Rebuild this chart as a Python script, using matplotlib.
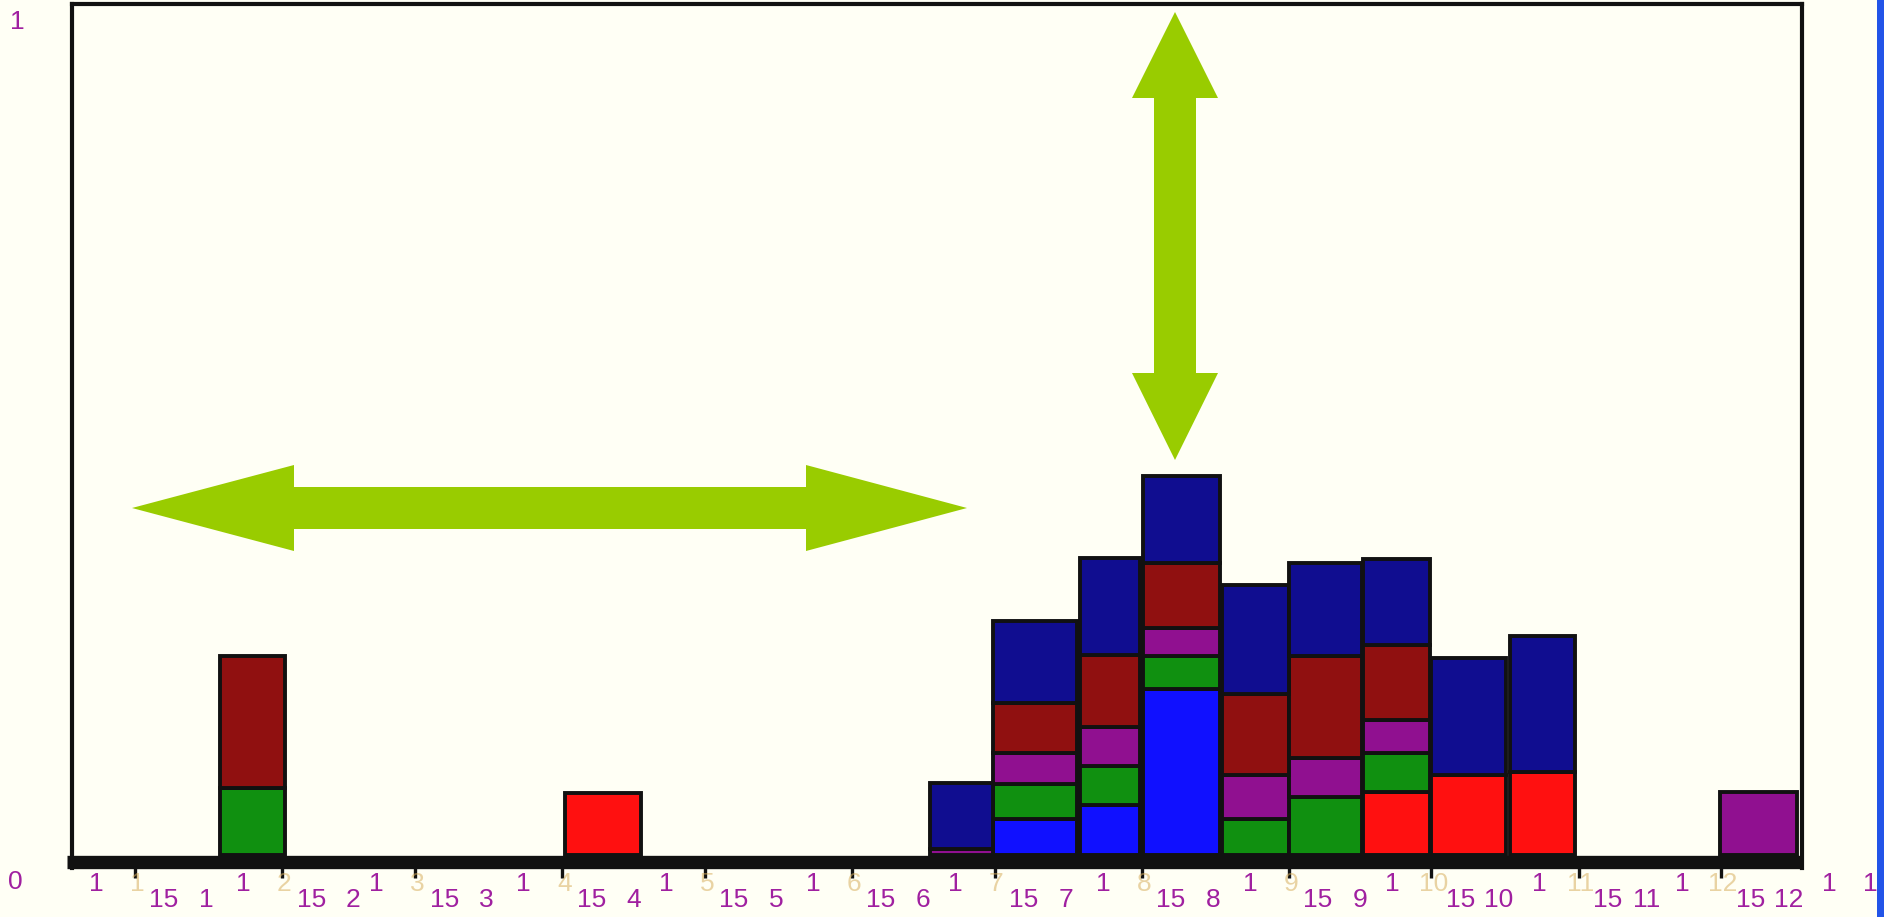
"""
Half-month stacked histogram with two green arrows.
Writes out.png (1884x917).
"""

import matplotlib
matplotlib.use('Agg')
import matplotlib.pyplot as plt
from matplotlib.patches import Polygon, Rectangle
import numpy as np

# ─── Data ────────────────────────────────────────────────────────────────────
# x in days from 1 January; each bar spans one half-month bin
BIN_START = [18.0, 90.5, 167.4, 180.7, 199.0, 212.3, 228.9, 243.0, 258.6, 273.0, 289.5, 333.8]
BIN_END   = [31.6, 106.5, 180.7, 198.4, 211.6, 228.5, 243.0, 258.4, 272.7, 288.7, 303.2, 350.0]

# stacked series, bottom to top (fraction of full axis height)
RED     = [0,     0.073, 0,     0,     0,     0,     0,     0,     0.074, 0.094, 0.098, 0]
BLUE    = [0,     0,     0,     0.042, 0.059, 0.195, 0,     0,     0,     0,     0,     0]
GREEN   = [0.079, 0,     0,     0.042, 0.045, 0.039, 0.042, 0.068, 0.046, 0,     0,     0]
PURPLE  = [0,     0,     0.007, 0.036, 0.046, 0.033, 0.052, 0.046, 0.039, 0,     0,     0.074]
DARKRED = [0.155, 0,     0,     0.059, 0.085, 0.076, 0.095, 0.120, 0.088, 0,     0,     0]
NAVY    = [0,     0,     0.078, 0.096, 0.114, 0.102, 0.128, 0.109, 0.101, 0.137, 0.159, 0]

SERIES = [RED, BLUE, GREEN, PURPLE, DARKRED, NAVY]
COLORS = ["#FF1010", "#1010FF", "#109010", "#901090", "#901010", "#100D90"]

# month starts (days from 1 January) and their labels
MONTH_START = [0, 31, 59, 90, 120, 151, 181, 212, 243, 273, 304, 334, 365]
MONTH_LABEL = ["1", "2", "3", "4", "5", "6", "7", "8", "9", "10", "11", "12", "1"]

Y_LABELS = ["0", "1"]

# ─── Style ───────────────────────────────────────────────────────────────────
W, H = 1884, 917
BG = "#FFFFF5"
INK = "#111111"
LABEL = "#A020A0"
ARROW = "#99CC00"
PX_PER_DAY = 4.749

plt.rcParams.update({
    "font.family": ["Liberation Sans", "DejaVu Sans"],
    "font.size": 19,
})

def fxy(x, y):
    """pixel (from top-left) -> figure fraction"""
    return (x / W, 1 - y / H)

fig = plt.figure(figsize=(W / 100, H / 100), dpi=100, facecolor=BG)
ax_l, ax_r, ax_t, ax_b = 72, 1802, 4, 868
ax = fig.add_axes([ax_l / W, (H - ax_b) / H, (ax_r - ax_l) / W, (ax_b - ax_t) / H])
ax.set_facecolor(BG)

# x limits from the frame edges, y so that 0 sits on the band top
ax.set_xlim((ax_l - 135) / PX_PER_DAY, (ax_r - 135) / PX_PER_DAY)
ax.set_ylim(-13 / 851, 1.0)

# ─── Bars ────────────────────────────────────────────────────────────────────
left = np.array(BIN_START)
width = np.array(BIN_END) - left
bottom = np.zeros(len(left))
for vals, col in zip(SERIES, COLORS):
    vals = np.array(vals)
    m = vals > 0
    ax.bar(left[m], vals[m], width=width[m], bottom=bottom[m], align="edge",
           color=col, edgecolor=INK, linewidth=2.8, zorder=3)
    bottom += vals

# thick axis band at the base
ax.axhline(-6.5 / 851, xmin=-0.003, xmax=1.0, color=INK, lw=9.6,
           clip_on=False, zorder=4, solid_capstyle="butt")

# ─── Frame / ticks ───────────────────────────────────────────────────────────
for s in ["left", "right", "top"]:
    ax.spines[s].set_linewidth(3.0)
    ax.spines[s].set_color(INK)
ax.spines["bottom"].set_visible(False)
ax.set_yticks([])
ax.set_xticks(MONTH_START[:-1])
ax.tick_params(axis="x", direction="out", length=7, width=2.4, color=INK,
               labelbottom=False)

# tick labels: "1 M" on the upper row, "15 M" on the lower row
tr = ax.get_xaxis_transform()
y_up = -(884 - ax_b) / (ax_b - ax_t)
y_lo = -(900 - ax_b) / (ax_b - ax_t)
for d, lab in zip(MONTH_START, MONTH_LABEL):
    ax.text(d - 8.2, y_up, "1", transform=tr, ha="center", va="center",
            color=LABEL, clip_on=False)
    on_tick = d < 350
    ax.text(d + 0.4, y_up, lab, transform=tr, ha="center", va="center",
            color="#D8B060" if on_tick else LABEL, alpha=0.55 if on_tick else 1,
            clip_on=False)
    if d < 350:
        ax.text(d + 6.1, y_lo, "15", transform=tr, ha="center", va="center",
                color=LABEL, clip_on=False)
        ax.text(d + 15.0 - (0.8 if len(lab) > 1 else 0), y_lo, lab, transform=tr,
                ha="center", va="center", color=LABEL, clip_on=False)

# y labels sit just outside the frame
fig.text(*fxy(15, 882), Y_LABELS[0], ha="center", va="center", color=LABEL)
fig.text(*fxy(17, 22), Y_LABELS[1], ha="center", va="center", color=LABEL)

# ─── Arrows ──────────────────────────────────────────────────────────────────
h_arrow = [(132, 508), (294, 465), (294, 487), (806, 487), (806, 465), (967, 508),
           (806, 551), (806, 529), (294, 529), (294, 551)]
v_arrow = [(1175, 12), (1218, 98), (1196, 98), (1196, 373), (1218, 373), (1175, 460),
           (1132, 373), (1154, 373), (1154, 98), (1132, 98)]
for pts in (h_arrow, v_arrow):
    fig.patches.append(Polygon([fxy(x, y) for x, y in pts], closed=True,
                               transform=fig.transFigure, facecolor=ARROW,
                               edgecolor="none", zorder=6))

# blue stripe on the right edge
fig.patches.append(Rectangle(fxy(1877, H), 7 / W, 1, transform=fig.transFigure,
                             facecolor="#2254E8", edgecolor="none", zorder=6))

fig.savefig("out.png", dpi=100, facecolor=BG)
print("out.png")
